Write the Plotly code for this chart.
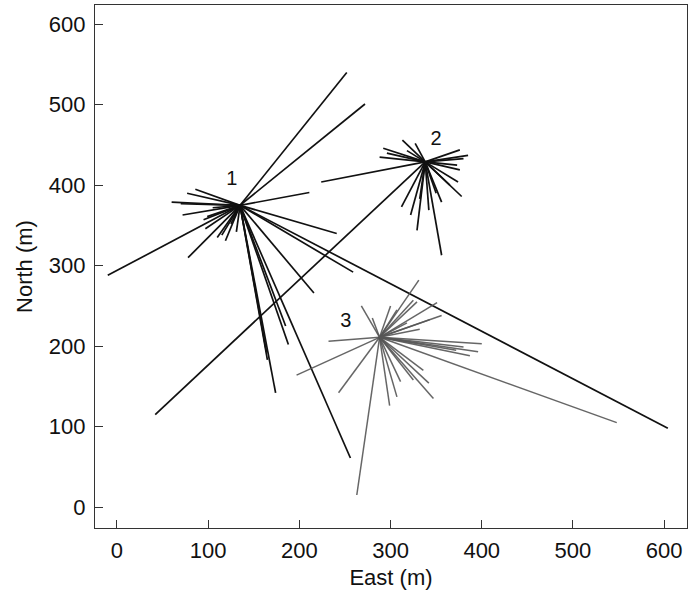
import plotly.graph_objects as go

# Star centers (East, North) in metres
centers_east = [135, 338, 288]
centers_north = [375, 429, 211]
center_labels = ["1", "2", "3"]
label_east = [126, 350, 251]
label_north = [406, 456, 230]

# Cluster 1 end points
c1_east = [252, 272, 211, -10, 78, 241, 259, 604, 216, 256, 174, 165, 164, 185, 188,
           70, 77, 86, 72, 95, 97, 110, 119, 131, 115, 99, 60, 105, 125]
c1_north = [540, 501, 391, 288, 310, 340, 292, 98, 266, 61, 142, 183, 193, 225, 202,
            377, 390, 395, 363, 357, 346, 335, 331, 342, 338, 361, 379, 372, 352]

# Cluster 2 end points
c2_east = [313, 327, 292, 288, 318, 376, 385, 376, 374, 378, 356, 342, 356, 329, 322,
           312, 332, 224, 42, 380, 373, 296, 350, 365]
c2_north = [456, 452, 446, 435, 443, 444, 437, 419, 404, 386, 379, 369, 313, 344, 363,
            373, 383, 404, 115, 433, 425, 440, 390, 400]

# Cluster 3 end points
c3_east = [268, 280, 232, 197, 243, 263, 299, 307, 311, 347, 342, 325, 548, 400, 396,
           387, 380, 331, 351, 356, 332, 325, 329, 300, 307, 343, 318, 372, 336]
c3_north = [250, 235, 206, 164, 142, 15, 126, 137, 156, 135, 154, 158, 105, 203, 193,
            188, 199, 282, 254, 238, 221, 257, 255, 250, 245, 233, 229, 195, 170]

clusters = [(c1_east, c1_north, "#111111", 1.7),
            (c2_east, c2_north, "#111111", 1.7),
            (c3_east, c3_north, "rgba(85,85,85,0.9)", 1.5)]

FONT = "Liberation Sans, Arial, Helvetica"

fig = go.Figure()
for i, (ex, ny, col, w) in enumerate(clusters):
    xs, ys = [], []
    for e, n in zip(ex, ny):
        xs += [centers_east[i], e, None]
        ys += [centers_north[i], n, None]
    fig.add_trace(go.Scatter(x=xs, y=ys, mode="lines",
                             line=dict(color=col, width=w),
                             hoverinfo="skip", showlegend=False))

fig.add_trace(go.Scatter(x=label_east, y=label_north, mode="text",
                         text=center_labels,
                         textfont=dict(family=FONT, size=20, color="#111"),
                         hoverinfo="skip", showlegend=False))

axis_common = dict(
    showgrid=False, zeroline=False, showline=True, mirror=True,
    linecolor="#333", linewidth=1.2,
    ticks="inside", ticklen=8, tickwidth=1.2, tickcolor="#333",
    tickfont=dict(family=FONT, size=22, color="#111"),
    tick0=0, dtick=100,
)

fig.update_layout(
    width=688, height=591,
    margin=dict(l=95, r=1, t=5, b=63),
    plot_bgcolor="white", paper_bgcolor="white",
    xaxis=dict(range=[-24, 625], ticklabelstandoff=2,
               title=dict(text="East (m)", standoff=8,
                          font=dict(family=FONT, size=22, color="#111")),
               **axis_common),
    yaxis=dict(range=[-26, 624], ticklabelstandoff=4,
               title=dict(text="North (m)", standoff=10,
                          font=dict(family=FONT, size=22, color="#111")),
               **axis_common),
)

fig.write_html("out.html", config={"displayModeBar": False},
               post_script="document.body.style.margin='0';document.body.style.overflow='hidden';")
